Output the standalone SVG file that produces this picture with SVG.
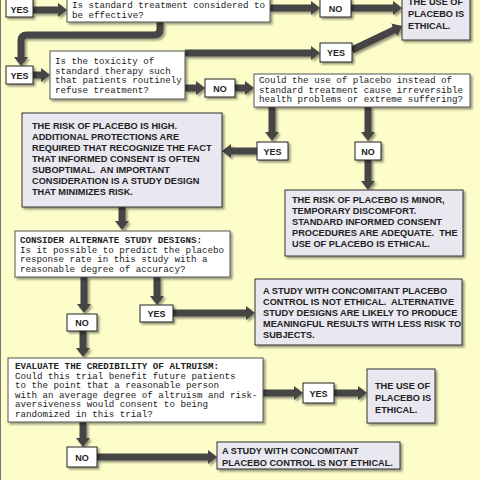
<svg xmlns="http://www.w3.org/2000/svg" width="480" height="480" viewBox="0 0 480 480">
<style>
.q{fill:#fff;stroke:#555;stroke-width:1}
.a{fill:#e9e7ef;stroke:#333;stroke-width:1}
.l{fill:#fff;stroke:#222;stroke-width:1}
.qt{font-family:"Liberation Mono",monospace;font-size:9.2px;fill:#222;white-space:pre}
.qb{font-weight:bold}
.at{font-family:"Liberation Sans",Arial,sans-serif;font-weight:bold;font-size:9.2px;fill:#222;white-space:pre}
.lt{font-family:"Liberation Sans",Arial,sans-serif;font-weight:bold;font-size:9px;fill:#222;text-anchor:middle}
.c{fill:none;stroke:#444;stroke-width:7;marker-end:url(#ah)}
</style>
<defs>
<filter id="sh" x="-10%" y="-10%" width="130%" height="130%">
<feDropShadow dx="2" dy="2" stdDeviation="1.2" flood-color="#000" flood-opacity="0.4"/>
</filter>
<marker id="ah" viewBox="0 0 9 14" refX="1" refY="7" markerWidth="9" markerHeight="14" markerUnits="userSpaceOnUse" orient="auto">
<path d="M0,0 L9,7 L0,14 z" fill="#444"/>
</marker>
</defs>
<rect x="0" y="0" width="480" height="480" fill="#fdfdca"/>
<line x1="0.5" y1="0" x2="0.5" y2="480" stroke="#777" stroke-width="1"/>
<g id="connectors" filter="url(#sh)">
<path class="c" d="M33,10 H59"/>
<path class="c" d="M270,8 H312"/>
<path class="c" d="M351,8 H394"/>
<path class="c" d="M160,22 V29 Q160,35 154,35 H27 Q21,35 21,41 V58"/>
<path class="c" d="M33,75 H42"/>
<path class="c" d="M185,53 H312"/>
<path class="c" d="M352,50 L395,29.5"/>
<path class="c" d="M185,88 H197"/>
<path class="c" d="M235,88 H246"/>
<path class="c" d="M272,107 V133"/>
<path class="c" d="M257,151 H230"/>
<path class="c" d="M368,107 V133"/>
<path class="c" d="M368,160 V182"/>
<path class="c" d="M122,207 V222"/>
<path class="c" d="M84,277 V305"/>
<path class="c" d="M157,277 V297"/>
<path class="c" d="M173,313 H247"/>
<path class="c" d="M83,331 V349"/>
<path class="c" d="M263,393 H295"/>
<path class="c" d="M334,393 H359"/>
<path class="c" d="M83,422 V439"/>
<path class="c" d="M97,457 H209"/>
</g>
<g id="yes1"><rect class="l" x="6" y="-2" width="27" height="19" filter="url(#sh)"/><text class="lt" x="19.5" y="13">YES</text></g>
<g id="q1"><rect class="q" x="67" y="-3" width="203" height="25" filter="url(#sh)"/>
<text class="qt"><tspan x="72" y="8">Is standard treatment considered to</tspan><tspan x="72" y="18">be effective?</tspan></text></g>
<g id="no1"><rect class="l" x="320" y="-2" width="31" height="19" filter="url(#sh)"/><text class="lt" x="335.5" y="11.5">NO</text></g>
<g id="eth1"><rect class="a" x="402" y="-5" width="68" height="45" filter="url(#sh)"/>
<text class="at"><tspan x="408" y="5">THE USE OF</tspan><tspan x="408" y="17">PLACEBO IS</tspan><tspan x="408" y="29">ETHICAL.</tspan></text></g>
<g id="yes2"><rect class="l" x="6" y="66" width="27" height="18" filter="url(#sh)"/><text class="lt" x="19.5" y="78.5">YES</text></g>
<g id="q2"><rect class="q" x="50" y="51" width="135" height="48" filter="url(#sh)"/>
<text class="qt"><tspan x="55" y="64">Is the toxicity of</tspan><tspan x="55" y="73.5">standard therapy such</tspan><tspan x="55" y="83">that patients routinely</tspan><tspan x="55" y="92.5">refuse treatment?</tspan></text></g>
<g id="yes3"><rect class="l" x="320" y="43" width="32" height="19" filter="url(#sh)"/><text class="lt" x="336" y="56">YES</text></g>
<g id="no2"><rect class="l" x="205" y="79" width="30" height="18" filter="url(#sh)"/><text class="lt" x="220" y="91.5">NO</text></g>
<g id="q3"><rect class="q" x="254" y="74" width="216" height="33" filter="url(#sh)"/>
<text class="qt"><tspan x="259" y="83">Could the use of placebo instead of</tspan><tspan x="259" y="92.5">standard treatment cause irreversible</tspan><tspan x="259" y="102">health problems or extreme suffering?</tspan></text></g>
<g id="yes4"><rect class="l" x="257" y="142" width="31" height="18" filter="url(#sh)"/><text class="lt" x="272.5" y="154.5">YES</text></g>
<g id="no4"><rect class="l" x="355" y="142" width="26" height="18" filter="url(#sh)"/><text class="lt" x="368" y="154.5">NO</text></g>
<g id="riskhigh"><rect class="a" x="22" y="113" width="200" height="94" filter="url(#sh)"/>
<text class="at"><tspan x="32" y="128.5">THE RISK OF PLACEBO IS HIGH.</tspan><tspan x="32" y="139.5">ADDITIONAL PROTECTIONS ARE</tspan><tspan x="32" y="150.5">REQUIRED THAT RECOGNIZE THE FACT</tspan><tspan x="32" y="161.5">THAT INFORMED CONSENT IS OFTEN</tspan><tspan x="32" y="172.5">SUBOPTIMAL.  AN IMPORTANT</tspan><tspan x="32" y="183.5">CONSIDERATION IS A STUDY DESIGN</tspan><tspan x="32" y="194.5">THAT MINIMIZES RISK.</tspan></text></g>
<g id="riskminor"><rect class="a" x="285" y="190" width="178" height="66" filter="url(#sh)"/>
<text class="at"><tspan x="292" y="202.5">THE RISK OF PLACEBO IS MINOR,</tspan><tspan x="292" y="213.5">TEMPORARY DISCOMFORT.</tspan><tspan x="292" y="224.5">STANDARD INFORMED CONSENT</tspan><tspan x="292" y="235.5">PROCEDURES ARE ADEQUATE.  THE</tspan><tspan x="292" y="246.5">USE OF PLACEBO IS ETHICAL.</tspan></text></g>
<g id="q4"><rect class="q" x="15" y="231" width="215" height="46" filter="url(#sh)"/>
<text class="qt"><tspan x="20" y="243" class="qb">CONSIDER ALTERNATE STUDY DESIGNS:</tspan><tspan x="20" y="252.5">Is it possible to predict the placebo</tspan><tspan x="20" y="262">response rate in this study with a</tspan><tspan x="20" y="271.5">reasonable degree of accuracy?</tspan></text></g>
<g id="no5"><rect class="l" x="67" y="314" width="30" height="17" filter="url(#sh)"/><text class="lt" x="82" y="326">NO</text></g>
<g id="yes5"><rect class="l" x="140" y="305" width="33" height="17" filter="url(#sh)"/><text class="lt" x="156.5" y="317">YES</text></g>
<g id="study"><rect class="a" x="255" y="279" width="207" height="66" filter="url(#sh)"/>
<text class="at"><tspan x="263" y="293.5">A STUDY WITH CONCOMITANT PLACEBO</tspan><tspan x="263" y="304.5">CONTROL IS NOT ETHICAL.  ALTERNATIVE</tspan><tspan x="263" y="315.5">STUDY DESIGNS ARE LIKELY TO PRODUCE</tspan><tspan x="263" y="326.5">MEANINGFUL RESULTS WITH LESS RISK TO</tspan><tspan x="263" y="337.5">SUBJECTS.</tspan></text></g>
<g id="q5"><rect class="q" x="8" y="358" width="255" height="64" filter="url(#sh)"/>
<text class="qt"><tspan x="15" y="369" class="qb">EVALUATE THE CREDIBILITY OF ALTRUISM:</tspan><tspan x="15" y="378.5">Could this trial benefit future patients</tspan><tspan x="15" y="388">to the point that a reasonable person</tspan><tspan x="15" y="397.5">with an average degree of altruism and risk-</tspan><tspan x="15" y="407">aversiveness would consent to being</tspan><tspan x="15" y="416.5">randomized in this trial?</tspan></text></g>
<g id="yes6"><rect class="l" x="303" y="383" width="31" height="20" filter="url(#sh)"/><text class="lt" x="318.5" y="396.5">YES</text></g>
<g id="eth2"><rect class="a" x="367" y="369" width="68" height="54" filter="url(#sh)"/>
<text class="at"><tspan x="375" y="388.5">THE USE OF</tspan><tspan x="375" y="400.5">PLACEBO IS</tspan><tspan x="375" y="412.5">ETHICAL.</tspan></text></g>
<g id="no6"><rect class="l" x="67" y="447" width="30" height="20" filter="url(#sh)"/><text class="lt" x="82" y="460.5">NO</text></g>
<g id="final"><rect class="a" x="217" y="442" width="183" height="27" filter="url(#sh)"/>
<text class="at"><tspan x="222" y="453.5">A STUDY WITH CONCOMITANT</tspan><tspan x="222" y="465.5">PLACEBO CONTROL IS NOT ETHICAL.</tspan></text></g>
</svg>
